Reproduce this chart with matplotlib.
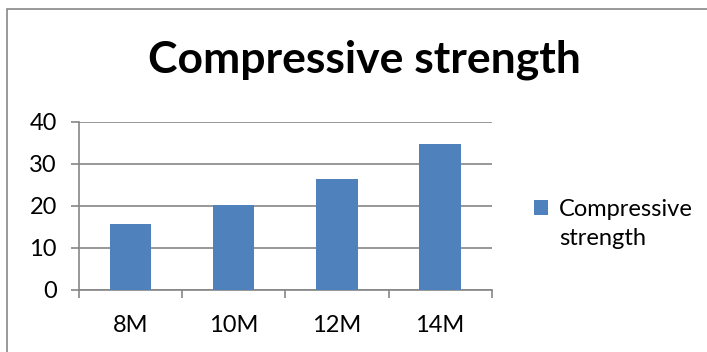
import matplotlib.pyplot as plt
from matplotlib.patches import Rectangle
from matplotlib.container import BarContainer
from matplotlib.legend_handler import HandlerPatch, update_from_first_child

# data
categories = ['8M', '10M', '12M', '14M']
strength = [15.7, 20.1, 26.3, 34.6]
y_ticks = [0, 10, 20, 30, 40]

bar_color = '#4F81BD'
grid_color = '#868686'

plt.rcParams['font.family'] = ['Lato', 'DejaVu Sans']

fig = plt.figure(figsize=(7.07, 3.52), dpi=100)
ax = fig.add_axes([79 / 707, 1 - 290 / 352, (491.7 - 79) / 707, (290 - 121.7) / 352])

x = list(range(len(categories)))
ax.bar(x, strength, width=0.4, color=bar_color, label='Compressive\nstrength', zorder=3)

ax.set_xlim(-0.5, len(categories) - 0.5)
ax.set_ylim(0, 40)
ax.set_yticks(y_ticks)
ax.set_yticklabels([str(v) for v in y_ticks], fontsize=17)
ax.set_xticks(x)
ax.set_xticklabels(categories, fontsize=17)
ax.tick_params(axis='x', length=0, pad=18)
ax.tick_params(axis='y', length=6, color=grid_color, width=1.2, pad=10)

# category boundary ticks on x axis
ax.set_xticks([i - 0.5 for i in range(len(categories) + 1)], minor=True)
ax.tick_params(axis='x', which='minor', length=6, color=grid_color, width=1.2)

ax.grid(axis='y', color=grid_color, linewidth=1.2, zorder=0)
for side in ['top', 'right']:
    ax.spines[side].set_visible(False)
for side in ['left', 'bottom']:
    ax.spines[side].set_color(grid_color)
    ax.spines[side].set_linewidth(1.2)

fig.text(364 / 707, 1 - 60 / 352, 'Compressive strength', fontsize=32, fontweight='bold',
         ha='center', va='center')


# legend marker sits beside the first line of the label, like Excel
def top_square(legend, orig_handle, xdescent, ydescent, width, height, fontsize):
    return Rectangle((-xdescent, -ydescent + 12.2), width, height)


leg = fig.legend(loc='center left', bbox_to_anchor=(534 / 707, 1 - 224 / 352), frameon=False,
                 fontsize=17, handlelength=0.6, handleheight=0.6, handletextpad=0.45,
                 borderaxespad=0, borderpad=0,
                 handler_map={BarContainer: HandlerPatch(patch_func=top_square,
                                                         update_func=update_from_first_child)})
for t in leg.get_texts():
    t.set_linespacing(1.45)

# outer chart border
fig.patches.append(Rectangle((7 / 707, -0.1), 1.1, 1 - 9 / 352 + 0.1, transform=fig.transFigure,
                             fill=False, edgecolor='#888888', linewidth=1.2))

fig.savefig('out.png', dpi=100)
